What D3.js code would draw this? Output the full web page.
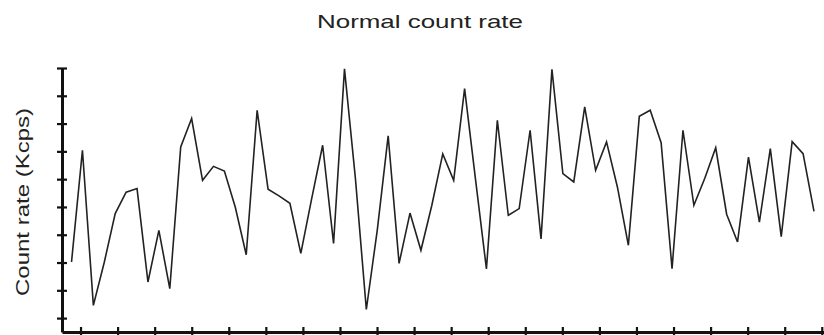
<!DOCTYPE html>
<html>
<head>
<meta charset="utf-8">
<script src="https://cdn.jsdelivr.net/npm/d3@7"></script>
<style>
  body { margin: 0; background: #fff; }
  svg { display: block; }
  text { font-family: "Liberation Sans", Arial, sans-serif; fill: #222; }
</style>
</head>
<body>
<div id="chart"></div>
<script>
// count rate samples (Kcps), one every sampleStep seconds
var countRate = [2.52, 6.54, 0.96, 2.51, 4.26, 5.03, 5.16, 1.80, 3.66, 1.56,
  6.66, 7.68, 5.46, 5.96, 5.79, 4.49, 2.78, 7.98, 5.14, 4.90,
  4.63, 2.83, 4.81, 6.72, 3.19, 9.47, 5.53, 0.81, 3.66, 7.06,
  2.47, 4.28, 2.94, 4.56, 6.41, 5.46, 8.76, 5.49, 2.27, 7.62,
  4.20, 4.44, 7.26, 3.35, 9.45, 5.70, 5.40, 8.10, 5.82, 6.84,
  5.21, 3.12, 7.76, 7.98, 6.81, 2.28, 7.26, 4.56, 5.53, 6.63,
  4.24, 3.24, 6.29, 3.95, 6.60, 3.43, 6.85, 6.42, 4.34];
var sampleStart = -0.243, sampleStep = 0.2946;

var xTicks = d3.range(0, 21);                 // time ticks (no labels)
var yTicks = d3.range(0.5, 10, 1);            // count rate ticks (no labels)
var xDomain = [-0.5, 20.06], yDomain = [0, 9.5];

var titleText = "Normal count rate";
var yLabel = "Count rate (Kcps)";

var margin = {top: 68, right: 0, bottom: 3, left: 62},
    width = 824 - margin.left - margin.right,
    height = 335 - margin.top - margin.bottom;

var svg = d3.select("#chart").append("svg")
    .attr("width", 824)
    .attr("height", 335);

var g = svg.append("g")
    .attr("transform", "translate(" + margin.left + "," + margin.top + ")");

var x = d3.scaleLinear().domain(xDomain).range([0, width]);
var y = d3.scaleLinear().domain(yDomain).range([height, 0]);

// title
svg.append("text")
    .attr("x", 420)
    .attr("y", 28)
    .attr("text-anchor", "middle")
    .attr("font-size", 19)
    .attr("textLength", 206)
    .attr("lengthAdjust", "spacingAndGlyphs")
    .text(titleText);

// y label
svg.append("text")
    .attr("transform", "translate(29,202) rotate(-90)")
    .attr("text-anchor", "middle")
    .attr("font-size", 19)
    .attr("textLength", 188)
    .attr("lengthAdjust", "spacingAndGlyphs")
    .text(yLabel);

// the line
var line = d3.line()
    .x(function (d, i) { return x(sampleStart + i * sampleStep); })
    .y(function (d) { return y(d); });

g.append("path")
    .datum(countRate)
    .attr("fill", "none")
    .attr("stroke", "#222")
    .attr("stroke-width", 1.6)
    .attr("stroke-linejoin", "miter")
    .attr("d", line);

// axes, ticks cross the axis line
var yAxis = g.append("g")
    .call(d3.axisLeft(y).tickValues(yTicks).tickFormat("").tickSizeOuter(0).tickSizeInner(0));
var xAxis = g.append("g")
    .attr("transform", "translate(0," + height + ")")
    .call(d3.axisBottom(x).tickValues(xTicks).tickFormat("").tickSizeOuter(0).tickSizeInner(0));

yAxis.selectAll(".tick line").attr("x1", -5).attr("x2", 5);
xAxis.selectAll(".tick line").attr("y1", -5).attr("y2", 5);

[xAxis, yAxis].forEach(function (a) {
  a.select(".domain").attr("stroke", "#111").attr("stroke-width", 3);
  a.selectAll(".tick line").attr("stroke", "#111").attr("stroke-width", 2.2);
});
</script>
</body>
</html>
